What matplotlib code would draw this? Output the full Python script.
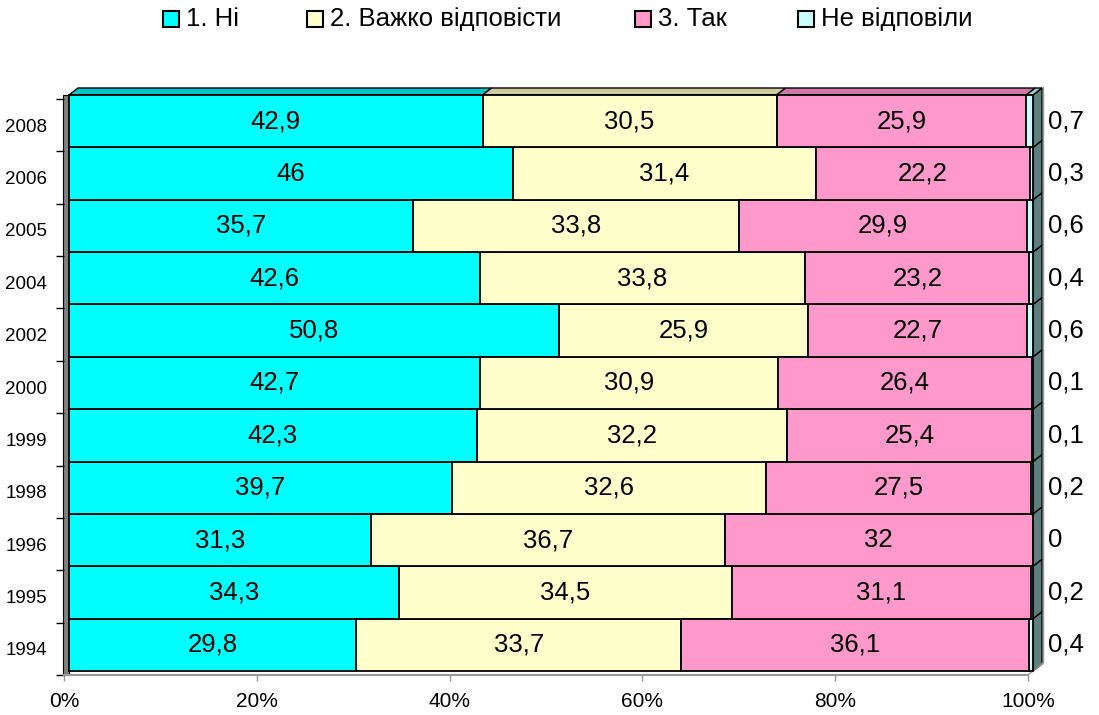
import matplotlib.pyplot as plt
from matplotlib.patches import Polygon, Rectangle

plt.rcParams['font.family'] = ['Liberation Sans', 'DejaVu Sans']

# data
years = ['1994', '1995', '1996', '1998', '1999', '2000', '2002', '2004', '2005', '2006', '2008']
ni = [29.8, 34.3, 31.3, 39.7, 42.3, 42.7, 50.8, 42.6, 35.7, 46, 42.9]
vazhko = [33.7, 34.5, 36.7, 32.6, 32.2, 30.9, 25.9, 33.8, 33.8, 31.4, 30.5]
tak = [36.1, 31.1, 32, 27.5, 25.4, 26.4, 22.7, 23.2, 29.9, 22.2, 25.9]
ne_vidp = [0.4, 0.2, 0, 0.2, 0.1, 0.1, 0.6, 0.4, 0.6, 0.3, 0.7]
series_names = ['1. Ні', '2. Важко відповісти', '3. Так', 'Не відповіли']
colors = ['#00FFFF', '#FFFFCC', '#FF99CC', '#CCFFFF']
top_colors = ['#00C8C8', '#CCCC9E', '#CC7AA3', '#A0CCCC']
side_color = '#5F7F7F'

W, H = 1099, 715
fig = plt.figure(figsize=(W / 100, H / 100), dpi=100)
# front plane of the 3d box: x 64..1028 px, y 99..675 px
ax = fig.add_axes([64 / W, 40 / H, 964 / W, 576 / H])
ax.set_xlim(0, 100)
ax.set_ylim(-0.5, len(years) - 0.5)

sx = 100 / 964          # data units per pixel
sy = len(years) / 576
ox, oy = 5 * sx, 4 * sy   # bars sit a bit behind the front plane
dx, dy = 9 * sx, 7 * sy   # bar depth

series = [ni, vazhko, tak, ne_vidp]
n = len(years)
totals = [sum(s[i] for s in series) for i in range(n)]
pct = [[s[i] / totals[i] * 100 for i in range(n)] for s in series]

ypos = [i + oy for i in range(n)]
lefts = [ox] * n
for k, vals in enumerate(pct):
    ax.barh(ypos, vals, left=lefts, height=1.0, color=colors[k],
            edgecolor='black', linewidth=1.3, clip_on=False, zorder=3)
    if k < 3:
        for i in range(n):
            txt = f'{series[k][i]:g}'.replace('.', ',')
            ax.text(lefts[i] + vals[i] / 2, ypos[i], txt, ha='center', va='center',
                    fontsize=18.5, zorder=5)
    lefts = [lefts[i] + vals[i] for i in range(n)]

# right side faces
for i in range(n):
    r = lefts[i]
    yb, yt = ypos[i] - 0.5, ypos[i] + 0.5
    ax.add_patch(Polygon([(r, yb), (r + dx, yb + dy), (r + dx, yt + dy), (r, yt)],
                         closed=True, facecolor=side_color, edgecolor='black',
                         linewidth=1.0, clip_on=False, zorder=2))

# top faces of the top bar
it = n - 1
yt = ypos[it] + 0.5
x0 = ox
for k, vals in enumerate(pct):
    x1 = x0 + vals[it]
    ax.add_patch(Polygon([(x0, yt), (x1, yt), (x1 + dx, yt + dy), (x0 + dx, yt + dy)],
                         closed=True, facecolor=top_colors[k], edgecolor='black',
                         linewidth=1.0, clip_on=False, zorder=2))
    x0 = x1

# labels for "Не відповіли" on the right
for i in range(n):
    txt = f'{ne_vidp[i]:g}'.replace('.', ',')
    ax.text((1048 - 64) * sx, ypos[i], txt, ha='left', va='center', fontsize=18.5,
            clip_on=False)

# left wall
ax.add_patch(Rectangle((-1 * sx, -0.5), 6 * sx, n + 4 * sy, facecolor='#808080',
                       edgecolor='black', linewidth=0.8, clip_on=False, zorder=1))

# floor and back edge
back_x = (1043 - 64) * sx
ax.plot([100, back_x], [-0.5, -0.5 + 12 * sy], color='#999999', lw=1.0, clip_on=False)
ax.plot([back_x, back_x], [-0.5 + 12 * sy, n - 0.5 + 12 * sy], color='#999999',
        lw=1.0, clip_on=False)

for s in ['top', 'right', 'left']:
    ax.spines[s].set_visible(False)
ax.spines['bottom'].set_color('#999999')
ax.spines['bottom'].set_linewidth(1.5)

ax.set_xticks([0, 20, 40, 60, 80, 100])
ax.set_xticklabels(['0%', '20%', '40%', '60%', '80%', '100%'], fontsize=15)
ax.tick_params(axis='x', length=4, width=1, color='#999999', pad=8)

ax.set_yticks(range(n))
ax.set_yticklabels(years, fontsize=13.5)
ax.set_yticks([i - 0.5 for i in range(n + 1)], minor=True)
ax.tick_params(axis='y', which='major', length=0, pad=12)
ax.tick_params(axis='y', which='minor', length=6, width=1, color='black')

# legend
leg_sq = [163, 307, 635, 798]
for k in range(4):
    fig.add_artist(Rectangle((leg_sq[k] / W, 1 - 27 / H), 16 / W, 16 / H,
                             transform=fig.transFigure, facecolor=colors[k],
                             edgecolor='black', linewidth=1.5))
    fig.text((leg_sq[k] + 23) / W, 1 - 19 / H, series_names[k], fontsize=18.5,
             ha='left', va='center')

fig.savefig('out.png', dpi=100)
